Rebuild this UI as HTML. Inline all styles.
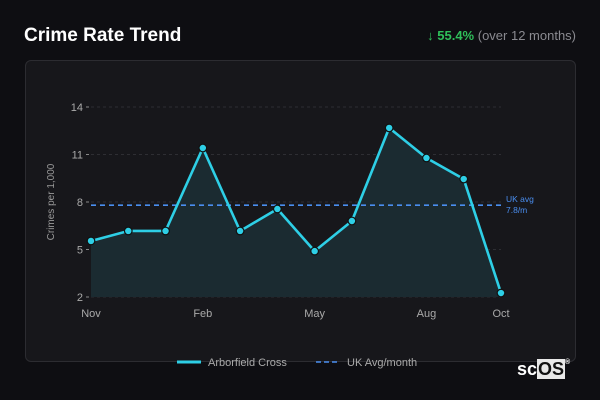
<!DOCTYPE html>
<html><head><meta charset="utf-8"><style>
html,body{margin:0;padding:0;width:600px;height:400px;background:#0e0e12;overflow:hidden;font-family:"Liberation Sans",sans-serif;}
#card{position:absolute;left:25px;top:60px;width:549px;height:300px;background:#17171b;border:1px solid #2c2c31;border-radius:6px;}
</style></head><body>
<div style="position:absolute;left:24px;top:25px;color:#fff;font-weight:bold;font-size:19px;">Crime Rate Trend</div>
<div style="position:absolute;right:24px;top:28px;font-size:13px;color:#8a8a90;"><span style="color:#2fbf5a;font-weight:bold;">↓ 55.4%</span> (over 12 months)</div>
<div id="card"></div>
<svg id="chart" width="600" height="400" style="position:absolute;left:0;top:0"></svg>
<div style="position:absolute;left:517px;top:359px;font-size:18px;font-weight:bold;color:#fff;"><span>sc</span><span style="background:#e8e8e8;color:#111;padding:0 1px;">OS</span><span style="font-size:7px;vertical-align:top;">®</span></div>
<script>
const months=["Nov","Dec","Jan","Feb","Mar","Apr","May","Jun","Jul","Aug","Sep","Oct"];
const values=[5.54,6.17,6.17,11.41,6.17,7.56,4.9,6.8,12.68,10.78,9.45,2.25];
const yTicks=[2,5,8,11,14];
const xLabels=["Nov","Feb","May","Aug","Oct"];
const ukAvg=[7.8];
const NS="http://www.w3.org/2000/svg";
const svg=document.getElementById('chart');
const x0=91,x1=501,y0=297,y1=107,ymin=2,ymax=14;
const xs=i=>x0+(x1-x0)*i/(months.length-1);
const ys=v=>y0-(v-ymin)/(ymax-ymin)*(y0-y1);
function mk(t,a,txt){const e=document.createElementNS(NS,t);for(const k in a)e.setAttribute(k,a[k]);if(txt!=null)e.textContent=txt;svg.appendChild(e);return e;}
yTicks.forEach(t=>{
 const g=mk('line',{x1:x0,x2:x1,y1:ys(t),y2:ys(t),stroke:'#2e2e33','stroke-dasharray':'3,3'});
 
 
 const tk=mk('line',{x1:x0-5,x2:x0-2,y1:ys(t),y2:ys(t),stroke:'#888'});
 
 
 const l=mk('text',{x:x0-8,y:ys(t)+4,'text-anchor':'end',fill:'#aaa','font-size':11},t);
 
 
});
xLabels.forEach(m=>{
 const i=months.indexOf(m);
 const l=mk('text',{x:xs(i),y:317,'text-anchor':'middle',fill:'#aaa','font-size':11},m);
 
 
});
const yt=mk('text',{x:54,y:202,transform:'rotate(-90 54 202)','text-anchor':'middle',fill:'#999','font-size':10},'Crimes per 1,000');


let pts=values.map((v,i)=>xs(i)+','+ys(v)).join(' ');
const area=mk('polygon',{points:x0+','+y0+' '+pts+' '+x1+','+y0,fill:'#1b2b31'});


const avg=mk('line',{x1:x0,x2:x1,y1:ys(ukAvg[0]),y2:ys(ukAvg[0]),stroke:'#4a8ef0','stroke-width':1.6,'stroke-dasharray':'5,4'});


const al=mk('text',{x:506,y:ys(ukAvg[0])-3,fill:'#4a8ef0','font-size':8.5},'UK avg');


const al2=mk('text',{x:506,y:ys(ukAvg[0])+8,fill:'#4a8ef0','font-size':8.5},ukAvg[0]+'/m');


const line=mk('polyline',{points:pts,fill:'none',stroke:'#2ecfe6','stroke-width':2.6,'stroke-linejoin':'round'});


values.forEach((v,i)=>{
 const c=mk('circle',{cx:xs(i),cy:ys(v),r:3.8,fill:'#2ecfe6',stroke:'#111',"stroke-width":1.2});
 
 
});
const lg1=mk('line',{x1:177,x2:201,y1:362,y2:362,stroke:'#2ecfe6','stroke-width':3});


const lt1=mk('text',{x:208,y:366,fill:'#aaa','font-size':11},'Arborfield Cross');


const lg2=mk('line',{x1:316,x2:340,y1:362,y2:362,stroke:'#4a8ef0','stroke-width':1.6,'stroke-dasharray':'5,3'});


const lt2=mk('text',{x:347,y:366,fill:'#aaa','font-size':11},'UK Avg/month');


</script>
</body></html>
